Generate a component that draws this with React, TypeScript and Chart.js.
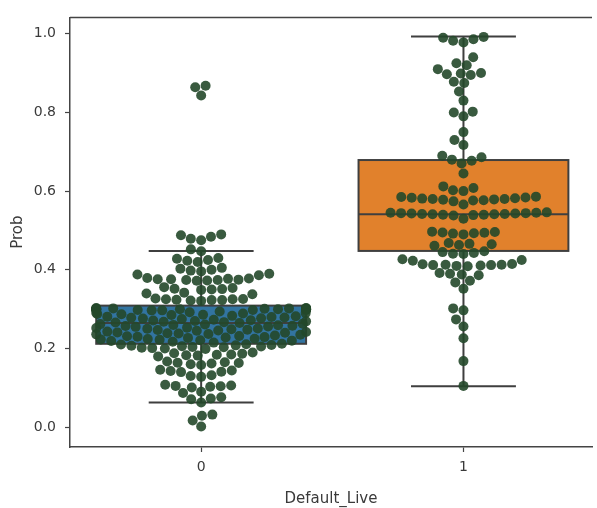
import React, { useEffect, useRef } from "react";
import { Chart, registerables } from "chart.js";

Chart.register(...registerables);

// ---------- data ----------
const categories = ["0", "1"];
const yTicks = [0, 0.2, 0.4, 0.6, 0.8, 1.0];

const group0 = [
  0.868, 0.864, 0.843,
  0.49, 0.488, 0.484, 0.479, 0.475,
  0.452, 0.447,
  0.43, 0.428, 0.425, 0.423, 0.42,
  0.405, 0.403, 0.4, 0.398, 0.396,
  0.39, 0.388, 0.386,
  0.379, 0.378, 0.377, 0.376, 0.376, 0.375, 0.374, 0.374, 0.373, 0.372,
  0.356, 0.354, 0.352, 0.351, 0.35, 0.349,
  0.342, 0.34, 0.338,
  0.327, 0.326, 0.325, 0.325, 0.324, 0.323, 0.323, 0.322, 0.321,
  0.303, 0.303, 0.302, 0.302, 0.302, 0.301, 0.301, 0.301, 0.301, 0.3, 0.3,
  0.3, 0.3, 0.3, 0.299, 0.299, 0.299, 0.298, 0.298, 0.298, 0.297, 0.297,
  0.294, 0.292, 0.291, 0.29, 0.289, 0.288, 0.287, 0.286, 0.285,
  0.283, 0.282, 0.281, 0.28, 0.279, 0.278, 0.277, 0.276, 0.275,
  0.273, 0.272, 0.271, 0.27, 0.269, 0.268, 0.267, 0.266, 0.265,
  0.263, 0.262, 0.261, 0.26, 0.259, 0.258, 0.257, 0.256, 0.255,
  0.253, 0.252, 0.251, 0.25, 0.249, 0.248, 0.247, 0.246, 0.245,
  0.243, 0.242, 0.241, 0.24, 0.239, 0.238, 0.237, 0.236, 0.235,
  0.233, 0.232, 0.231, 0.23, 0.229, 0.228, 0.227, 0.225,
  0.224, 0.223, 0.222, 0.221, 0.22, 0.219, 0.217, 0.215,
  0.212, 0.211, 0.21, 0.209, 0.208, 0.207, 0.206, 0.205, 0.204, 0.203, 0.202, 0.201, 0.2, 0.199,
  0.19, 0.188, 0.187, 0.185, 0.184, 0.183, 0.182, 0.18,
  0.167, 0.165, 0.164, 0.163, 0.162, 0.16, 0.158,
  0.146, 0.144, 0.143, 0.141, 0.14,
  0.132, 0.13, 0.128,
  0.108, 0.106, 0.105, 0.104, 0.103, 0.101,
  0.09, 0.087,
  0.076, 0.073, 0.071,
  0.063,
  0.032, 0.029,
  0.017,
  0.002,
];

const group1 = [
  0.992, 0.99, 0.986, 0.982, 0.978,
  0.94,
  0.925, 0.92,
  0.91,
  0.9, 0.899, 0.897, 0.895,
  0.878, 0.875,
  0.853,
  0.83,
  0.802, 0.8,
  0.79,
  0.75,
  0.73,
  0.717,
  0.69, 0.686, 0.68, 0.677,
  0.67,
  0.645,
  0.612, 0.608,
  0.602, 0.6,
  0.586, 0.585, 0.584, 0.583, 0.582, 0.581, 0.58, 0.58, 0.579, 0.578, 0.577, 0.576, 0.574,
  0.566,
  0.546, 0.545, 0.545, 0.544, 0.544, 0.543, 0.543, 0.542, 0.542, 0.541, 0.541, 0.54, 0.54, 0.539, 0.538,
  0.53,
  0.497, 0.496, 0.495, 0.494, 0.493, 0.492, 0.49,
  0.468, 0.466, 0.465, 0.463, 0.461,
  0.447, 0.445, 0.443, 0.441, 0.44,
  0.427, 0.425, 0.423,
  0.415, 0.414, 0.413, 0.413, 0.412, 0.412, 0.411, 0.41, 0.409,
  0.392, 0.39, 0.388, 0.386,
  0.372, 0.368,
  0.352,
  0.302, 0.297,
  0.274,
  0.256,
  0.226,
  0.168,
  0.105,
];

const boxQ1 = [0.212, 0.448];
const boxMedian = [0.265, 0.541];
const boxQ3 = [0.309, 0.679];
const whiskerLow = [0.063, 0.104];
const whiskerHigh = [0.448, 0.993];

// ---------- styles ----------
const boxColors = ["#3274a1", "#e1812c"];
const lineGray = "#3f3f3f";
const pointColor = "rgba(36,72,42,0.9)";
const textColor = "#3a3a3a";
const FONT = "'DejaVu Sans', sans-serif";
const POINT_R = 5;
const BOX_HALF = 0.4;

function swarmLayout(values: number[], center: number, xs: any, ys: any) {
  const cx = xs.getPixelForValue(center);
  const halfPx = xs.getPixelForValue(center + BOX_HALF) - cx;
  const r = POINT_R;
  const pts = values.map((v) => ({ v, py: ys.getPixelForValue(v), px: cx }));
  const order = pts.slice().sort((a, b) => b.py - a.py);
  const placed: any[] = [];
  for (const p of order) {
    const neighbors = placed.filter((q) => Math.abs(q.py - p.py) < 2 * r);
    const cands = [cx];
    for (const q of neighbors) {
      const dy = p.py - q.py;
      const dx = Math.sqrt(Math.max(4 * r * r - dy * dy, 0)) * 1.05;
      cands.push(q.px - dx, q.px + dx);
    }
    cands.sort((a, b) => Math.abs(a - cx) - Math.abs(b - cx));
    let chosen = cands[cands.length - 1];
    for (const c of cands) {
      const ok = neighbors.every(
        (q) => (q.px - c) ** 2 + (q.py - p.py) ** 2 >= 4 * r * r * 0.999
      );
      if (ok) {
        chosen = c;
        break;
      }
    }
    p.px = chosen;
    placed.push(p);
  }
  return pts.map((p) => ({
    x: xs.getValueForPixel(Math.min(cx + halfPx, Math.max(cx - halfPx, p.px))),
    y: p.v,
  }));
}

const boxPlugin = {
  id: "boxPlugin",
  beforeDatasetsDraw(chart: any) {
    const { ctx, scales } = chart;
    const xs = scales.x;
    const ys = scales.y;
    ctx.save();
    categories.forEach((_, i) => {
      const cx = xs.getPixelForValue(i);
      const left = xs.getPixelForValue(i - BOX_HALF);
      const right = xs.getPixelForValue(i + BOX_HALF);
      const capL = xs.getPixelForValue(i - BOX_HALF / 2);
      const capR = xs.getPixelForValue(i + BOX_HALF / 2);
      const yq1 = ys.getPixelForValue(boxQ1[i]);
      const yq3 = ys.getPixelForValue(boxQ3[i]);
      const ymed = ys.getPixelForValue(boxMedian[i]);
      const ylo = ys.getPixelForValue(whiskerLow[i]);
      const yhi = ys.getPixelForValue(whiskerHigh[i]);
      ctx.strokeStyle = lineGray;
      ctx.lineWidth = 2;
      ctx.beginPath();
      ctx.moveTo(cx, yq3);
      ctx.lineTo(cx, yhi);
      ctx.moveTo(cx, yq1);
      ctx.lineTo(cx, ylo);
      ctx.moveTo(capL, yhi);
      ctx.lineTo(capR, yhi);
      ctx.moveTo(capL, ylo);
      ctx.lineTo(capR, ylo);
      ctx.stroke();
      ctx.fillStyle = boxColors[i];
      ctx.fillRect(left, yq3, right - left, yq1 - yq3);
      ctx.strokeRect(left, yq3, right - left, yq1 - yq3);
      ctx.beginPath();
      ctx.moveTo(left, ymed);
      ctx.lineTo(right, ymed);
      ctx.stroke();
    });
    ctx.restore();
  },
  afterDraw(chart: any) {
    const { ctx, chartArea } = chart;
    ctx.save();
    ctx.strokeStyle = "#444";
    ctx.lineWidth = 1.5;
    ctx.beginPath();
    ctx.moveTo(chartArea.left, chartArea.top);
    ctx.lineTo(chartArea.right, chartArea.top);
    ctx.stroke();
    ctx.restore();
  },
};

export default function App() {
  const ref = useRef<HTMLCanvasElement>(null);
  useEffect(() => {
    const canvas = ref.current!;
    const groups = [group0, group1];
    const chart = new Chart(canvas, {
      type: "scatter",
      data: {
        datasets: groups.map((g, i) => ({
          label: categories[i],
          data: g.map((v) => ({ x: i, y: v })),
          pointRadius: POINT_R,
          pointHoverRadius: POINT_R,
          backgroundColor: pointColor,
          borderWidth: 0,
        })),
      },
      options: {
        animation: false,
        responsive: false,
        devicePixelRatio: 1,
        events: [],
        layout: { padding: { top: 13, right: 0, bottom: 0, left: 0 } },
        plugins: { legend: { display: false }, tooltip: { enabled: false } },
        scales: {
          x: {
            type: "linear",
            min: -0.5,
            max: 1.49,
            afterBuildTicks: (s: any) => {
              s.ticks = categories.map((_, i) => ({ value: i }));
            },
            afterFit: (s: any) => {
              s.height = 508 - 447;
            },
            ticks: {
              callback: (v: any) => categories[Number(v)] ?? "",
              color: textColor,
              font: { family: FONT, size: 14 },
              padding: 7,
              maxRotation: 0,
            },
            grid: { drawOnChartArea: false, tickLength: 5, tickColor: "#444", tickWidth: 1.2 },
            border: { display: true, color: "#444", width: 1.5 },
            title: {
              display: true,
              text: "Default_Live",
              color: textColor,
              font: { family: FONT, size: 15 },
              padding: 0,
            },
          },
          y: {
            type: "linear",
            min: -0.0503,
            max: 1.0415,
            afterBuildTicks: (s: any) => {
              s.ticks = yTicks.map((v) => ({ value: v }));
            },
            afterFit: (s: any) => {
              s.width = 70;
            },
            ticks: {
              callback: (v: any) => Number(v).toFixed(1),
              color: textColor,
              font: { family: FONT, size: 14 },
              padding: 9,
            },
            grid: { drawOnChartArea: false, tickLength: 5, tickColor: "#444", tickWidth: 1.2 },
            border: { display: true, color: "#444", width: 1.5 },
            title: {
              display: true,
              text: "Prob",
              color: textColor,
              font: { family: FONT, size: 15 },
              padding: 9,
            },
          },
        },
      },
      plugins: [boxPlugin],
    });
    const xs = chart.scales.x;
    const ys = chart.scales.y;
    chart.data.datasets.forEach((ds: any, i: number) => {
      ds.data = swarmLayout(groups[i], i, xs, ys);
    });
    chart.update();
    return () => chart.destroy();
  }, []);
  return (
    <div style={{ position: "absolute", left: 0, top: 0, width: 597, height: 508, background: "#fff" }}>
      <canvas ref={ref} width={597} height={508} />
    </div>
  );
}
